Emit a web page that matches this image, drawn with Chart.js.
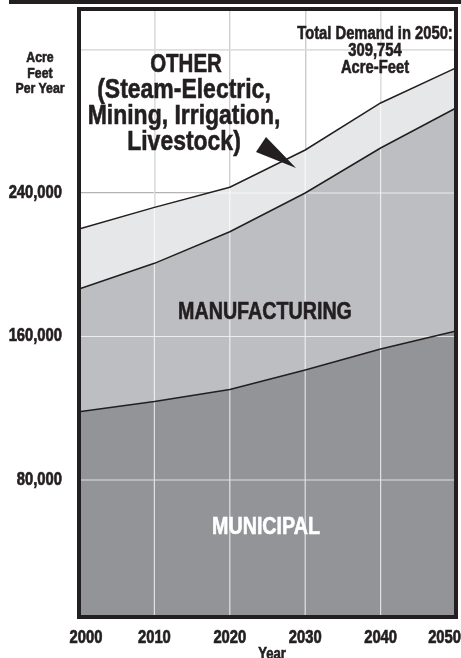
<!DOCTYPE html>
<html>
<head>
<meta charset="utf-8">
<script src="https://cdn.jsdelivr.net/npm/chart.js@4.4.1/dist/chart.umd.min.js"></script>
<style>
  body { margin: 0; background: #fff; }
  #wrap {
    position: relative; width: 461px; height: 658px; overflow: hidden;
    font-family: "Liberation Sans", Arial, sans-serif;
    font-weight: bold; color: #231f20;
  }
  #chart { position: absolute; left: 0; top: 0; }
  #topbar { position: absolute; left: 9px; top: 0; width: 452px; height: 4px; background: #231f20; }
  .lbl {
    position: absolute; text-align: center; white-space: nowrap;
    transform: translateX(-50%) scaleX(0.82);
    -webkit-text-stroke: 0.6px #231f20;
  }
  .lbl.white { color: #fff; -webkit-text-stroke: 0.6px #fff; }
  svg { position: absolute; left: 0; top: 0; }
</style>
</head>
<body>
<div id="wrap">
  <canvas id="chart" width="461" height="658"></canvas>
  <div id="topbar"></div>
  <div class="lbl" style="left:40px; top:49px; font-size:15px; line-height:15.5px;">Acre<br>Feet<br>Per Year</div>
  <div class="lbl" style="left:375px; top:25px; font-size:18px; line-height:17px;">Total Demand in 2050:<br>309,754<br>Acre-Feet</div>
  <div class="lbl" style="left:186px; top:50px; font-size:25px; line-height:26px;">OTHER</div>
  <div class="lbl" style="left:184px; top:76px; font-size:28px; line-height:26px;">(Steam-Electric,<br>Mining, Irrigation,<br>Livestock)</div>
  <div class="lbl" style="left:265px; top:298px; font-size:24px; line-height:26px;">MANUFACTURING</div>
  <div class="lbl white" style="left:266px; top:513px; font-size:24px; line-height:26px;">MUNICIPAL</div>
  <div class="lbl" style="left:272px; top:646px; font-size:16px; line-height:16px;">Year</div>
  <svg width="461" height="658"><polygon points="256,152 266,137 296,168" fill="#231f20"/></svg>
</div>
<script>
const years = ['2000', '2010', '2020', '2030', '2040', '2050'];
const municipal = [118100, 123700, 130400, 141300, 153000, 163100];
const manufacturing = [68400, 77100, 88000, 98700, 112100, 124300];
const other = [33400, 31200, 24800, 24000, 25100, 22354];
const yTicks = [80000, 160000, 240000, 320000];
const yTickLabels = ['80,000', '160,000', '240,000', ''];

const ink = '#231f20';
const fontFamily = '"Liberation Sans", Arial, sans-serif';
const squeeze = 0.82; // fake a condensed face

function condensedText(ctx, text, x, y, align) {
  ctx.save();
  ctx.translate(x, y);
  ctx.scale(squeeze, 1);
  ctx.textAlign = align;
  ctx.strokeText(text, 0, 0);
  ctx.fillText(text, 0, 0);
  ctx.restore();
}

// grid drawn over the fills but under the outlines
const gridOverlay = {
  id: 'gridOverlay',
  beforeDatasetsDraw(chart) {
    const { ctx, chartArea: a, scales: { x, y } } = chart;
    ctx.save();
    ctx.strokeStyle = 'rgba(255,255,255,0.72)';
    ctx.lineWidth = 1.2;
    ctx.beginPath();
    x.ticks.forEach((t, i) => {
      const px = x.getPixelForTick(i);
      ctx.moveTo(px, a.top); ctx.lineTo(px, a.bottom);
    });
    y.ticks.forEach((t, i) => {
      const py = y.getPixelForTick(i);
      ctx.moveTo(a.left, py); ctx.lineTo(a.right, py);
    });
    ctx.stroke();
    ctx.restore();
  }
};

const frame = {
  id: 'frame',
  afterDatasetsDraw(chart) {
    const { ctx, chartArea: a } = chart;
    ctx.save();
    ctx.strokeStyle = ink;
    ctx.lineWidth = 4;
    ctx.strokeRect(a.left, a.top, a.right - a.left, a.bottom - a.top);
    ctx.restore();
  }
};

const axisLabels = {
  id: 'axisLabels',
  afterDraw(chart) {
    const { ctx, chartArea: a, scales: { x, y } } = chart;
    ctx.save();
    ctx.font = 'bold 18px ' + fontFamily;
    ctx.fillStyle = ink;
    ctx.strokeStyle = ink;
    ctx.lineWidth = 0.7;
    ctx.textBaseline = 'middle';
    years.forEach((lab, i) => {
      const w = ctx.measureText(lab).width * squeeze;
      let px = x.getPixelForTick(i);
      px = Math.max(px, a.left + 7);
      px = Math.min(px, chart.width - w / 2);
      condensedText(ctx, lab, px, a.bottom + 21, 'center');
    });
    yTicks.forEach((v, i) => {
      condensedText(ctx, yTickLabels[i], a.left - 17, y.getPixelForValue(v), 'right');
    });
    ctx.restore();
  }
};

const line = { borderColor: ink, borderWidth: 1.5, pointRadius: 0, tension: 0 };

new Chart(document.getElementById('chart'), {
  type: 'line',
  data: {
    labels: years,
    datasets: [
      { label: 'Municipal', data: municipal, fill: 'origin', backgroundColor: '#939498', ...line },
      { label: 'Manufacturing', data: manufacturing, fill: '-1', backgroundColor: '#bdbec1', ...line },
      { label: 'Other', data: other, fill: '-1', backgroundColor: '#e6e7e8', ...line }
    ]
  },
  options: {
    responsive: false,
    animation: false,
    layout: { padding: { top: 9, right: 5, left: 0, bottom: 0 } },
    plugins: {
      legend: { display: false },
      tooltip: { enabled: false },
      filler: { drawTime: 'beforeDatasetsDraw' }
    },
    scales: {
      x: {
        offset: false,
        grid: { color: '#8a8a8a', lineWidth: 1.2, drawTicks: false },
        border: { display: false },
        ticks: { display: false },
        afterFit(s) { s.height = 41; s.paddingLeft = 0; s.paddingRight = 0; }
      },
      y: {
        stacked: true,
        min: 3600,
        max: 342600,
        afterBuildTicks(s) { s.ticks = yTicks.map(v => ({ value: v })); },
        grid: { color: '#8a8a8a', lineWidth: 1.2, drawTicks: false },
        border: { display: false },
        ticks: { display: false },
        afterFit(s) { s.width = 79; s.paddingTop = 0; s.paddingBottom = 0; }
      }
    }
  },
  plugins: [gridOverlay, frame, axisLabels]
});
</script>
</body>
</html>
